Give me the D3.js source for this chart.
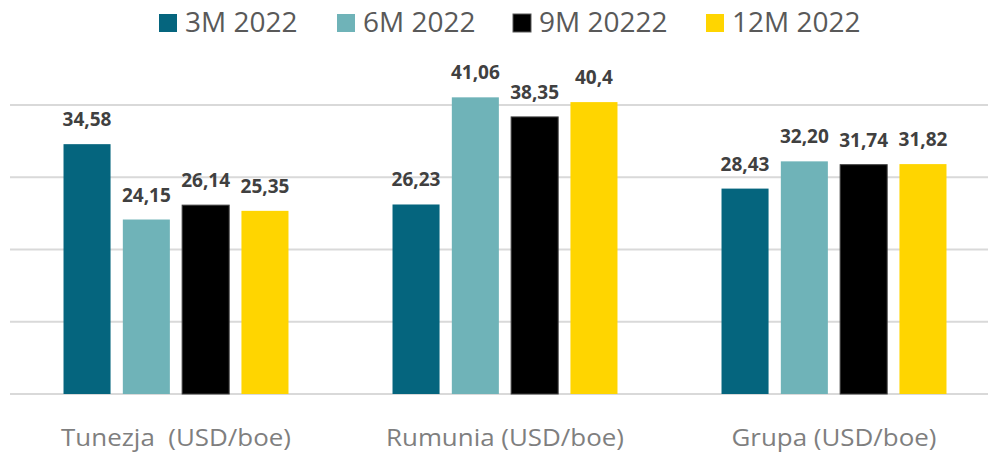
<!DOCTYPE html>
<html lang="pl">
<head>
<meta charset="UTF-8">
<title>USD/boe</title>
<script src="https://d3js.org/d3.v7.min.js"></script>
<style>
  body { margin: 0; background: #fff; }
  svg { display: block; font-family: "Open Sans", sans-serif; }
  .grid line { stroke: #d9d9d9; stroke-width: 2px; }
  .value { font-weight: bold; font-size: 19px; fill: #404040; text-anchor: middle; }
  .cat { font-size: 24px; fill: #7f7f7f; text-anchor: middle; }
  .legend text { font-size: 28px; fill: #595959; }
</style>
</head>
<body>
<div id="chart"></div>
<script>
// dane
var categories = ["Tunezja  (USD/boe)", "Rumunia (USD/boe)", "Grupa (USD/boe)"];
var seriesNames = ["3M 2022", "6M 2022", "9M 20222", "12M 2022"];
var seriesColors = ["#05657e", "#6fb3b8", "#000000", "#ffd500"];
var values3M = [34.58, 26.23, 28.43];
var values6M = [24.15, 41.06, 32.20];
var values9M = [26.14, 38.35, 31.74];
var values12M = [25.35, 40.4, 31.82];
var labels3M = ["34,58", "26,23", "28,43"];
var labels6M = ["24,15", "41,06", "32,20"];
var labels9M = ["26,14", "38,35", "31,74"];
var labels12M = ["25,35", "40,4", "31,82"];
var gridTicks = [0, 10, 20, 30, 40];

var seriesValues = [values3M, values6M, values9M, values12M];
var seriesLabels = [labels3M, labels6M, labels9M, labels12M];

var width = 988, height = 455;

var svg = d3.select("#chart").append("svg")
  .attr("width", width)
  .attr("height", height);

var x = d3.scaleBand()
  .domain(categories)
  .range([11.5, 998.5]);

var xs = d3.scaleBand()
  .domain(seriesNames)
  .range([0, x.bandwidth()])
  .paddingInner(0.207)
  .paddingOuter(0.877);

var y = d3.scaleLinear()
  .domain([0, 50])
  .range([394, 32.75]);

// linie siatki
svg.append("g").attr("class", "grid")
  .selectAll("line")
  .data(gridTicks)
  .enter().append("line")
  .attr("x1", 10)
  .attr("x2", width)
  .attr("y1", function (d) { return y(d); })
  .attr("y2", function (d) { return y(d); });

// słupki
var rows = [];
categories.forEach(function (c, i) {
  seriesNames.forEach(function (s, j) {
    rows.push({ cat: c, series: s, value: seriesValues[j][i], label: seriesLabels[j][i], color: seriesColors[j] });
  });
});

svg.append("g").selectAll("rect")
  .data(rows)
  .enter().append("rect")
  .attr("x", function (d) { return x(d.cat) + xs(d.series); })
  .attr("y", function (d) { return y(d.value); })
  .attr("width", xs.bandwidth())
  .attr("height", function (d) { return y(0) - y(d.value); })
  .attr("fill", function (d) { return d.color; })
  .attr("stroke", function (d) { return d.series === "9M 20222" ? "#404040" : "none"; })
  .attr("stroke-width", 1);

svg.append("g").selectAll("text")
  .data(rows)
  .enter().append("text")
  .attr("class", "value")
  .attr("x", function (d) { return x(d.cat) + xs(d.series) + xs.bandwidth() / 2; })
  .attr("y", function (d) { return y(d.value) - 18; })
  .text(function (d) { return d.label; });

// etykiety kategorii (lekko rozciągnięte w poziomie jak w oryginale)
svg.append("g").selectAll("text")
  .data(categories)
  .enter().append("text")
  .attr("class", "cat")
  .attr("transform", function (d) { return "translate(" + (x(d) + x.bandwidth() / 2) + ",446) scale(1.08,1)"; })
  .attr("xml:space", "preserve")
  .style("white-space", "pre")
  .text(function (d) { return d; });

// legenda
var legendX = [159, 337, 513, 706];
var legend = svg.append("g").attr("class", "legend")
  .selectAll("g")
  .data(seriesNames)
  .enter().append("g")
  .attr("transform", function (d, i) { return "translate(" + legendX[i] + ",0)"; });

legend.append("rect")
  .attr("x", 0)
  .attr("y", 14)
  .attr("width", 18)
  .attr("height", 18)
  .attr("fill", function (d, i) { return seriesColors[i]; })
  .attr("stroke", function (d, i) { return i === 2 ? "#595959" : "none"; });

legend.append("text")
  .attr("x", 26)
  .attr("y", 32)
  .text(function (d) { return d; });
</script>
</body>
</html>
